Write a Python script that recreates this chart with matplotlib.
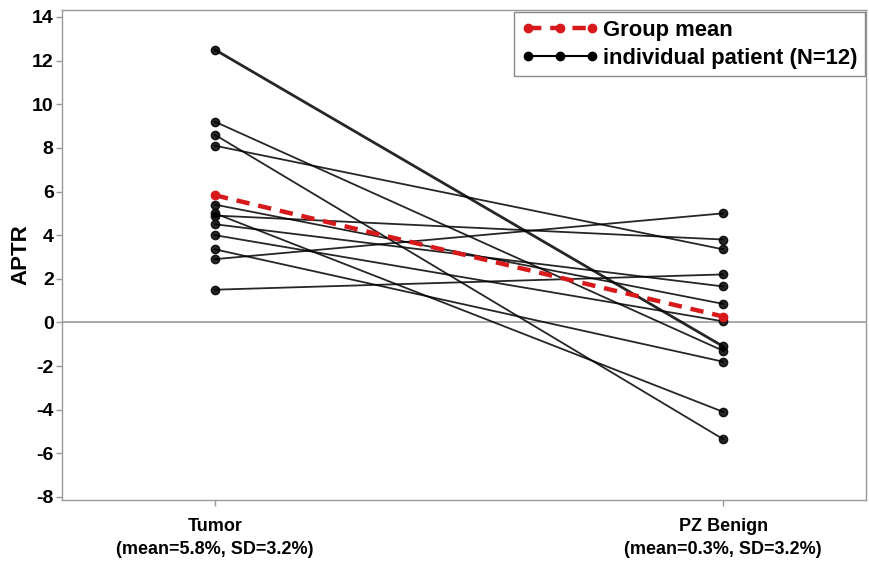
import numpy as np
import matplotlib
matplotlib.use("Agg")
import matplotlib.pyplot as plt
from matplotlib.lines import Line2D

plt.rcParams['font.family'] = ['Liberation Sans', 'DejaVu Sans']
plt.rcParams['font.weight'] = 'bold'

# data
groups = ["Tumor\n(mean=5.8%, SD=3.2%)", "PZ Benign\n(mean=0.3%, SD=3.2%)"]
tumor = [12.5, 9.2, 8.6, 8.1, 5.4, 5.0, 4.9, 4.5, 4.0, 3.35, 2.9, 1.5]
benign = [-1.1, -1.3, -5.35, 3.35, 0.85, -4.1, 3.8, 1.65, 0.05, -1.8, 5.0, 2.2]
yticks = list(range(-8, 15, 2))

fig = plt.figure(figsize=(8.69, 5.66), dpi=100)
ax = fig.add_axes([0.0713, 0.1166, 0.9252, 0.8657])

x = np.array([0, 1])
ax.axhline(0, color='#999999', lw=1.2, zorder=1)

# individual patients
for i, (t, b) in enumerate(zip(tumor, benign)):
    lw = 2.0 if i == 0 else 1.3
    ax.plot(x, [t, b], color='black', lw=lw, marker='o', markersize=6,
            alpha=0.85, zorder=2)

# group mean
mean_t = np.mean(tumor)
mean_b = np.mean(benign)
ax.plot(x, [mean_t, mean_b], color='#d7191c', lw=3.2, ls=(0, (3, 2)),
        marker='o', markersize=6, zorder=3)

ax.set_xlim(-0.301, 1.281)
ax.set_ylim(-8.14, 14.32)
ax.set_xticks(x)
ax.set_xticklabels(groups, fontsize=13, fontweight='bold', linespacing=1.45)
ax.set_yticks(yticks)
ax.set_yticklabels([str(v) for v in yticks], fontsize=14, fontweight='bold')
ax.set_ylabel("APTR", fontsize=16, fontweight='bold', labelpad=0)

for s in ax.spines.values():
    s.set_color('#999999')
    s.set_linewidth(1.0)
ax.tick_params(axis='both', colors='#999999', labelcolor='black', length=4, width=1)
ax.tick_params(axis='x', pad=9)
ax.tick_params(axis='y', pad=2)

handles = [
    Line2D([], [], color='#d7191c', lw=3.2, ls=(0, (3, 2)), marker='o', markersize=6),
    Line2D([], [], color='black', lw=1.5, marker='o', markersize=6),
]
leg = ax.legend(handles, ["Group mean", "individual patient (N=12)"],
                loc='upper right', bbox_to_anchor=(0.999, 0.995), borderaxespad=0,
                numpoints=3, handlelength=3.5, handletextpad=0.2, borderpad=0.35,
                labelspacing=0.3, fancybox=False, framealpha=1,
                edgecolor='#888888', prop={'size': 15.8, 'weight': 'bold'})
leg.get_frame().set_linewidth(1.0)

fig.savefig("out.png", dpi=100)
